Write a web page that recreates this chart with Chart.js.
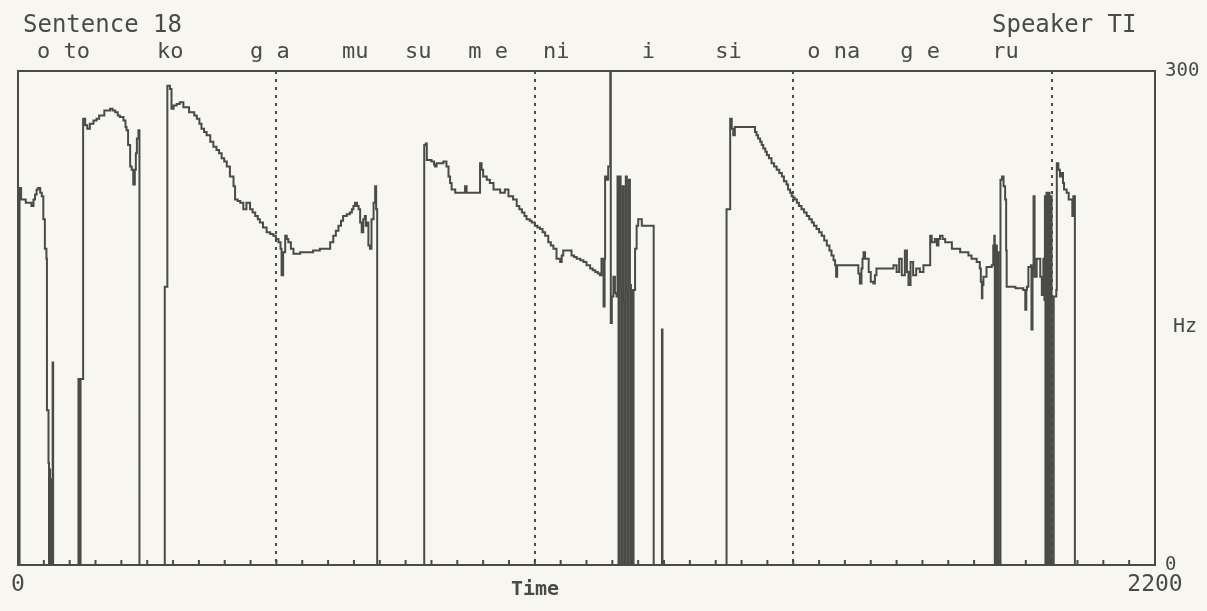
<!DOCTYPE html>
<html>
<head>
<meta charset="utf-8">
<title>Sentence 18 - Speaker TI</title>
<script src="https://cdn.jsdelivr.net/npm/chart.js@4.4.1/dist/chart.umd.min.js"></script>
<style>
	html, body { margin: 0; padding: 0; background: #f7f6f1; }
	canvas { display: block; }
</style>
</head>
<body>
<canvas id="chart" width="1207" height="611"></canvas>

<script type="text/javascript">

	// F0 track, time in ms, frequency in Hz (0 = unvoiced)
	var timeMs = [
		0,3,3,6,10,15,20,26,30,33,36,39,43,46,49,52,55,56,59,60,61,62,63,64,66,67,68,116,
		117,119,121,124,126,130,134,139,146,152,157,162,167,172,178,183,188,193,197,204,208,210,213,217,220,223,226,228,230,233,235,283,
		284,288,289,293,294,297,301,307,313,320,326,331,336,341,346,351,355,360,365,372,378,384,389,394,399,404,410,417,420,425,
		430,436,442,449,454,459,464,468,474,481,488,494,499,504,508,510,513,517,520,523,528,533,546,558,571,584,597,604,610,615,
		620,625,629,636,642,646,649,652,656,659,662,665,668,671,673,675,678,681,684,688,691,693,695,785,
		786,789,791,800,805,807,810,823,829,833,836,839,846,862,865,868,891,894,897,900,907,913,920,933,942,949,958,965,970,975,
		980,984,990,994,1000,1005,1010,1015,1020,1026,1031,1036,1042,1049,1052,1055,1065,1071,1076,1081,
		1088,1094,1100,1107,1112,1117,1122,1126,1129,1133,1135,1136,1139,1142,1145,1146,1147,1149,1152,1155,
		1158,1160,1162,1164,1166,1168,1170,1172,1174,1176,1178,1180,1182,1184,1186,1188,1190,1191,1194,1197,
		1200,1204,1207,1229,1230,1245,1246,1247,1370,
		1371,1377,1378,1381,1384,1387,1423,1426,1429,1432,1436,1439,1442,1446,1449,1453,1458,1463,1468,1473,
		1478,1482,1487,1490,1494,1497,1500,1503,1507,1511,1516,1521,1526,1531,1536,1540,1545,1550,1555,1560,
		1565,1570,1574,1578,1581,1583,1585,1623,1626,1629,1632,1634,1636,1639,1642,1646,1650,1655,1658,1661,
		1690,1694,1700,1705,1710,1716,1720,1723,1727,1732,1738,1745,1752,1761,1765,1768,1774,1778,1781,1784,
		1789,1794,1803,1807,1823,1839,1845,1855,1861,1863,1865,1866,1868,1874,1884,1887,1889,1890,1892,1894,
		1896,1897,1900,1901,1904,1907,1910,1912,1913,1930,1945,1948,1949,1951,1952,1955,1960,1961,1963,1965,
		1967,1971,1975,1978,1981,1984,1986,1987,1988,1990,1992,1994,1996,1998,2000,2002,2004,2009,2010,2013,
		2016,2019,2022,2024,2029,2033,2036,2040,2042,2045,2047,2049,2200
	];
	var f0Hz = [
		0,0,229,222,222,220,220,218,222,225,228,229,226,224,210,192,186,94,62,0,58,0,52,0,0,123,0,0,
		113,0,113,113,271,267,265,268,270,271,273,273,276,276,277,276,275,273,272,270,266,264,255,242,240,231,240,250,259,264,0,0,
		169,169,291,291,289,277,279,280,281,278,278,275,275,273,271,268,265,263,261,257,254,252,250,247,245,242,236,230,222,221,
		220,216,220,216,214,212,210,208,205,202,201,200,198,196,192,176,190,200,198,196,192,189,190,190,191,192,192,196,200,203,
		206,209,212,213,214,216,218,220,218,216,208,202,210,212,206,208,194,192,210,220,230,216,0,0,
		255,256,246,245,243,242,244,245,242,236,232,228,226,226,230,226,226,244,240,236,234,232,228,226,228,224,222,218,216,214,
		212,210,209,208,206,205,204,202,200,196,194,192,186,184,188,191,191,188,187,186,
		185,184,182,180,179,178,177,176,186,157,186,236,234,242,242,300,147,163,175,165,
		163,236,0,236,170,0,230,160,0,236,165,0,234,170,0,167,0,167,192,206,
		210,210,206,206,0,0,143,0,0,
		216,216,271,265,261,266,266,263,261,259,257,255,253,251,249,247,244,242,240,238,
		236,233,231,228,226,224,223,222,220,218,216,214,212,210,208,206,204,202,200,197,
		194,191,188,185,182,175,182,182,177,171,180,186,190,186,186,178,172,171,176,180,
		180,182,178,186,176,191,178,170,184,176,180,178,182,182,200,196,198,194,198,200,
		198,196,196,192,190,188,186,184,180,172,162,170,175,181,182,194,200,0,194,0,
		190,0,0,234,236,230,222,191,169,168,167,167,155,167,169,181,182,143,180,224,
		175,186,186,175,164,186,161,224,0,226,0,226,0,224,0,0,163,167,
		244,240,236,238,232,228,226,222,222,212,224,0,0
	];

	// syllables and the time (ms) where each label starts
	var syllables = ['o to', 'ko', 'g a', 'mu', 'su', 'm e', 'ni', 'i', 'si', 'o na', 'g e', 'ru'];
	var syllableStartMs = [37, 269, 449, 627, 749, 871, 1016, 1207, 1349, 1527, 1707, 1885];

	var xTickLabels = [0, 2200];
	var yTickLabels = [0, 300];

	var ink = '#4a4a48';
	var paper = '#f7f6f1';
	var mono = '"DejaVu Sans Mono", monospace';

	var points = [];
	for (var i = 0; i < timeMs.length; i++) {
		points.push({ x: timeMs[i], y: f0Hz[i] });
	}

	var paperPlugin = {
		id: 'paper',
		beforeDraw: function(chart) {
			var ctx = chart.ctx;
			ctx.save();
			ctx.fillStyle = paper;
			ctx.fillRect(0, 0, chart.width, chart.height);
			ctx.restore();
		},
		afterDraw: function(chart) {
			var ctx = chart.ctx;
			var a = chart.chartArea;
			var xs = chart.scales.x;
			ctx.save();
			ctx.strokeStyle = ink;
			ctx.lineWidth = 2;
			ctx.strokeRect(a.left, a.top, a.right - a.left, a.bottom - a.top);

			// small ticks pointing up into the plot
			ctx.beginPath();
			xs.ticks.forEach(function(t) {
				if (t.value <= 0 || t.value >= 2200) return;
				var px = xs.getPixelForValue(t.value);
				ctx.moveTo(px, a.bottom);
				ctx.lineTo(px, a.bottom - 5);
			});
			ctx.stroke();

			ctx.fillStyle = ink;
			ctx.textBaseline = 'alphabetic';
			ctx.textAlign = 'left';
			ctx.font = '24px ' + mono;
			ctx.fillText('Sentence 18', 23, 32);
			ctx.fillText('Speaker TI', 992, 32);

			ctx.font = '22px ' + mono;
			for (var i = 0; i < syllables.length; i++) {
				ctx.fillText(syllables[i], xs.getPixelForValue(syllableStartMs[i]), 58);
			}

			ctx.font = '20px ' + mono;
			ctx.fillText('Hz', 1173, 332);

			ctx.font = 'bold 20px ' + mono;
			ctx.textAlign = 'center';
			ctx.fillText('Time', 535, 595);
			ctx.restore();
		}
	};

	var config = {
		type: 'line',
		data: {
			datasets: [
				{
					label: 'F0',
					data: points,
					borderColor: ink,
					borderWidth: 2,
					pointRadius: 0,
					stepped: true,
					fill: false
				}
			]
		},
		options: {
			responsive: false,
			devicePixelRatio: 1,
			animation: false,
			layout: { padding: { left: 18, top: 71, right: 0, bottom: 0 } },
			plugins: {
				legend: { display: false },
				tooltip: { enabled: false }
			},
			scales: {
				x: {
					type: 'linear',
					min: 0,
					max: 2200,
					afterFit: function(scale) { scale.height = 46; },
					ticks: {
						stepSize: 50,
						autoSkip: false,
						maxRotation: 0,
						padding: 6,
						color: ink,
						font: { family: mono, size: 23 },
						callback: function(v) { return xTickLabels.indexOf(v) >= 0 ? String(v) : ''; }
					},
					grid: {
						drawTicks: false,
						lineWidth: 2,
						color: function(c) {
							var v = c.tick ? c.tick.value : 0;
							return (v % 500 === 0 && v > 0 && v < 2200) ? ink : 'rgba(0,0,0,0)';
						}
					},
					border: { display: false, dash: [3, 5] }
				},
				y: {
					position: 'right',
					min: 0,
					max: 300,
					afterFit: function(scale) { scale.width = 52; },
					ticks: {
						stepSize: 300,
						padding: 10,
						color: ink,
						font: { family: mono, size: 19 },
						callback: function(v) { return yTickLabels.indexOf(v) >= 0 ? String(v) : ''; }
					},
					grid: { display: false, drawTicks: false },
					border: { display: false }
				}
			}
		},
		plugins: [paperPlugin]
	};

	var ctx = document.getElementById('chart').getContext('2d');
	var chart = new Chart(ctx, config);

</script>
</body>
</html>
